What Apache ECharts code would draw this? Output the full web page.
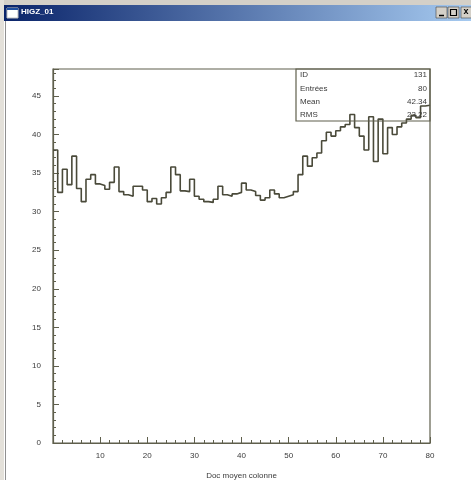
<!DOCTYPE html>
<html>
<head>
<meta charset="utf-8">
<script src="https://cdn.jsdelivr.net/npm/echarts@6/dist/echarts.min.js"></script>
<style>
  html, body { margin: 0; padding: 0; background: #ffffff; }
  #chart { width: 471px; height: 480px; }
</style>
</head>
<body>
<div id="chart"></div>
<script>
// Histogram: one content value per unit bin, bins 0..80
const binEdges = Array.from({ length: 81 }, (_, i) => i);
const binContents = [
  38.0, 32.5, 35.5, 33.5, 37.2, 33.0, 31.3, 34.2, 34.8, 33.6,
  33.4, 32.9, 33.8, 35.8, 32.6, 32.2, 32.0, 33.3, 33.3, 32.8,
  31.3, 31.7, 31.0, 31.8, 32.5, 35.8, 34.8, 32.7, 32.6, 34.2,
  32.0, 31.6, 31.3, 31.2, 31.6, 33.3, 32.2, 32.0, 32.3, 32.5,
  33.7, 32.8, 32.6, 32.1, 31.5, 31.8, 32.8, 32.3, 31.8, 32.0,
  32.2, 32.6, 34.8, 37.2, 35.9, 37.0, 37.6, 39.2, 40.3, 39.8,
  40.5, 41.0, 41.3, 42.6, 40.9, 39.8, 38.0, 42.3, 36.5, 42.0,
  37.5, 40.9, 40.0, 41.0, 41.5, 42.0, 42.5, 42.2, 43.7, 43.8
];
const statLabels = ['ID', 'Entrées', 'Mean', 'RMS'];
const statValues = ['131', '80', '42.34', '23.22'];
const windowTitle = 'HIGZ_01';
const xTitle = 'Doc moyen colonne';

// Step outline: each bin's left edge carries its content, the last edge repeats it
const stepData = binEdges.map((x, i) => [x, binContents[Math.min(i, binContents.length - 1)]]);

const frameColor = '#5f5f4c';
const inkColor = '#4a4a3a';
const textColor = '#3a3a3a';
const font = 'Liberation Sans';

// Stats box rows
const statGraphics = [];
statLabels.forEach((lab, i) => {
  const y = 71 + i * 13.3;
  statGraphics.push({
    type: 'text', left: 300, top: y, z: 10,
    style: { text: lab, font: '8px "' + font + '"', fill: textColor }
  });
  statGraphics.push({
    type: 'text', right: 44, top: y, z: 10,
    style: { text: statValues[i], font: '8px "' + font + '"', fill: textColor, align: 'right' }
  });
});

const chart = echarts.init(document.getElementById('chart'), null, { renderer: 'canvas' });
chart.setOption({
  animation: false,
  backgroundColor: '#ffffff',
  grid: {
    left: 53, right: 41, top: 69, bottom: 37,
    outerBoundsMode: 'none', containLabel: false,
    show: true, borderColor: frameColor, borderWidth: 1.2, backgroundColor: 'transparent'
  },
  xAxis: {
    type: 'value', min: 0, max: 80, interval: 10,
    name: xTitle, nameLocation: 'middle', nameGap: 29,
    nameTextStyle: { fontFamily: font, fontSize: 8, color: textColor },
    axisLine: { show: true, lineStyle: { color: frameColor, width: 1.2 } },
    axisTick: { show: true, inside: true, length: 6, lineStyle: { color: frameColor } },
    minorTick: { show: true, splitNumber: 5, length: 3, lineStyle: { color: frameColor } },
    axisLabel: {
      fontFamily: font, fontSize: 8, color: textColor, margin: 9,
      formatter: v => (v === 0 ? '' : String(v))
    },
    splitLine: { show: false }
  },
  yAxis: {
    type: 'value', min: 0, max: 48.5, interval: 5,
    axisLine: { show: true, lineStyle: { color: frameColor, width: 1.2 } },
    axisTick: { show: true, inside: true, length: 6, lineStyle: { color: frameColor } },
    minorTick: { show: true, splitNumber: 5, length: 3, lineStyle: { color: frameColor } },
    axisLabel: {
      fontFamily: font, fontSize: 8, color: textColor, margin: 12, showMaxLabel: false
    },
    splitLine: { show: false }
  },
  series: [{
    type: 'line',
    step: 'end',
    data: stepData,
    showSymbol: false,
    lineStyle: { color: inkColor, width: 1.6 },
    z: 5
  }],
  graphic: [
    // window frame
    { type: 'rect', shape: { x: 0, y: 0, width: 471, height: 5 }, style: { fill: '#d4d0c8' } },
    { type: 'rect', shape: { x: 0, y: 0, width: 4, height: 480 }, style: { fill: '#e4e1da' } },
    { type: 'line', shape: { x1: 5.5, y1: 21, x2: 5.5, y2: 480 }, style: { stroke: '#909090', lineWidth: 1 } },
    {
      type: 'rect', shape: { x: 4, y: 5, width: 467, height: 16 },
      style: {
        fill: new echarts.graphic.LinearGradient(0, 0, 1, 0, [
          { offset: 0, color: '#0a246a' },
          { offset: 1, color: '#a6caf0' }
        ])
      }
    },
    { type: 'rect', shape: { x: 7, y: 8, width: 11, height: 10 }, style: { fill: '#ffffff', stroke: '#c0c0c0' } },
    { type: 'rect', shape: { x: 7, y: 8, width: 11, height: 2 }, style: { fill: '#2050a0' } },
    {
      type: 'text', left: 21, top: 8,
      style: { text: windowTitle, font: 'bold 8px "' + font + '"', fill: '#ffffff' }
    },
    // caption buttons
    { type: 'rect', shape: { x: 436, y: 7, width: 11, height: 11 }, style: { fill: '#d4d0c8', stroke: '#404040', lineWidth: 0.6 } },
    { type: 'line', shape: { x1: 439, y1: 15.5, x2: 444, y2: 15.5 }, style: { stroke: '#000', lineWidth: 1.5 } },
    { type: 'rect', shape: { x: 448, y: 7, width: 11, height: 11 }, style: { fill: '#d4d0c8', stroke: '#404040', lineWidth: 0.6 } },
    { type: 'rect', shape: { x: 450.5, y: 9.5, width: 6, height: 6 }, style: { fill: 'none', stroke: '#000', lineWidth: 1.2 } },
    { type: 'rect', shape: { x: 461, y: 7, width: 11, height: 11 }, style: { fill: '#d4d0c8', stroke: '#404040', lineWidth: 0.6 } },
    { type: 'text', left: 463.5, top: 7.5, style: { text: 'x', font: 'bold 9px "' + font + '"', fill: '#000' } },
    // statistics box
    {
      type: 'rect', z: 10,
      shape: { x: 296, y: 69, width: 134, height: 52 },
      style: { fill: 'none', stroke: frameColor, lineWidth: 1.2 }
    }
  ].concat(statGraphics)
});
</script>
</body>
</html>
